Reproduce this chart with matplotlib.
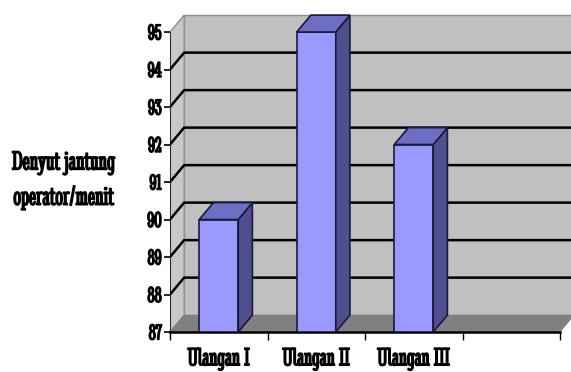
import matplotlib.pyplot as plt
import matplotlib.patheffects as pe
from matplotlib.patches import Polygon

categories = ['Ulangan I', 'Ulangan II', 'Ulangan III', '']
values = [90, 95, 92]
y_ticks = [87, 88, 89, 90, 91, 92, 93, 94, 95]
y_label = ['Denyut jantung', 'operator/menit']

FONT = ['Stint Ultra Condensed', 'Liberation Serif']
bold = [pe.withStroke(linewidth=1.0, foreground='black')]  # thicken the narrow font
base, top = y_ticks[0], y_ticks[-1]
ncat = len(categories)
dx, dy = 0.145, 0.45   # depth of the 3d box, in data units
bw = 0.4               # bar width

wall_c = '#c0c0c0'
floor_c = '#808080'
front_c, side_c, top_c = '#9999ff', '#4f4f8f', '#6e6ec4'
edge_c = '#1a1a40'

fig = plt.figure(figsize=(5.71, 3.72), dpi=100)
ax = fig.add_axes([170 / 571, 40 / 372, 401 / 571, 332 / 372])
ax.set_xlim(0, 401 / 97.5)
ax.set_ylim(base, top + 32 / 37.5)

# walls and floor
ax.add_patch(Polygon([(dx, base + dy), (ncat + dx, base + dy), (ncat + dx, top + dy), (dx, top + dy)],
                     closed=True, fc=wall_c, ec='#909090', lw=1, zorder=1))
ax.add_patch(Polygon([(0, base), (dx, base + dy), (dx, top + dy), (0, top)],
                     closed=True, fc='#c8c8c8', ec='#909090', lw=1, zorder=1))
ax.add_patch(Polygon([(0, base), (ncat, base), (ncat + dx, base + dy), (dx, base + dy)],
                     closed=True, fc=floor_c, ec=floor_c, lw=0.5, zorder=2))

# gridlines: oblique on the side wall, flat on the back wall
for v in y_ticks[1:-1]:
    ax.plot([0, dx, ncat + dx], [v, v + dy, v + dy], color='black', lw=1.8, zorder=3,
            solid_capstyle='butt')

# bars as boxes
for i, v in enumerate(values):
    x0, x1 = i + 0.5 - bw / 2, i + 0.5 + bw / 2
    ax.bar(i + 0.5, v - base, bottom=base, width=bw, color=front_c, edgecolor=edge_c, lw=1.2, zorder=5)
    ax.add_patch(Polygon([(x1, base), (x1 + dx, base + dy), (x1 + dx, v + dy), (x1, v)],
                         closed=True, fc=side_c, ec=edge_c, lw=1.2, zorder=5))
    ax.add_patch(Polygon([(x0, v), (x1, v), (x1 + dx, v + dy), (x0 + dx, v + dy)],
                         closed=True, fc=top_c, ec=edge_c, lw=1.2, zorder=5))

# axes lines and ticks
for s in ['top', 'right']:
    ax.spines[s].set_visible(False)
ax.spines['left'].set_bounds(base, top)
ax.spines['left'].set_color('#303030')
ax.spines['bottom'].set_bounds(0, ncat)
ax.spines['bottom'].set_linewidth(1.8)
ax.spines['bottom'].set_zorder(4)
ax.patch.set_visible(False)

ax.set_yticks(y_ticks)
ax.set_yticklabels([str(t) for t in y_ticks], family=FONT, fontsize=16, path_effects=bold)
ax.tick_params(axis='y', length=4, width=1.2, pad=2)
ax.set_xticks(range(ncat + 1))
ax.set_xticklabels([])
ax.tick_params(axis='x', which='major', length=6, width=1)
ax.set_xticks([i + 0.5 for i in range(ncat)], minor=True)
ax.set_xticklabels(categories, minor=True, family=FONT, fontsize=18.5, path_effects=bold)
ax.tick_params(axis='x', which='minor', length=0, pad=11)

fig.text(64 / 571, 1 - 163 / 372, y_label[0], family=FONT, fontsize=19.5, path_effects=bold,
         ha='center', va='center')
fig.text(64 / 571, 1 - 198 / 372, y_label[1], family=FONT, fontsize=19.5, path_effects=bold,
         ha='center', va='center')

fig.savefig('out.png', dpi=100)
